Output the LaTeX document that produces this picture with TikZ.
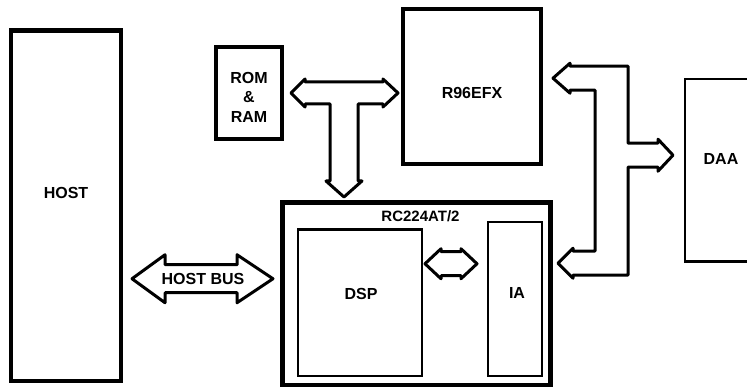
\documentclass[tikz,border=0pt]{standalone}
\usepackage{fontspec}
\setmainfont{Liberation Sans}
\usepackage{tikz}
\usetikzlibrary{calc, positioning}

\begin{document}
\begin{tikzpicture}[x=1pt, y=-1pt,
    box/.style={draw, line width=3pt, inner sep=0pt, outer sep=0pt},
    thinbox/.style={box, line width=2.4pt},
    bus/.style={draw, line width=3pt, line join=round},
    lbl/.style={font=\fontsize{16}{19.5}\selectfont\bfseries, inner sep=0pt, align=center},
  ]
    \useasboundingbox (0,0) rectangle (747,387);

    % blocks
    \node[box, line width=4.5pt, minimum width=110pt, minimum height=350.5pt] (host) at (66,205.75) {};
    \node[box, line width=4pt, minimum width=66pt, minimum height=92pt] (mem) at (249,93) {};
    \node[box, line width=4pt, minimum width=138pt, minimum height=155pt] (modem) at (472,86.2) {};
    \node[thinbox, minimum width=72pt, minimum height=182.5pt] (daa) at (721,170.25) {};
    \node[box, line width=4.5pt, minimum width=268pt, minimum height=182.5pt] (rc) at (416.5,293.75) {};
    \node[thinbox, minimum width=124pt, minimum height=146.5pt] (dsp) at (360,302.75) {};
    \node[thinbox, minimum width=54pt, minimum height=154pt] (ia) at (515,299) {};

    % labels
    \node[lbl] (hostlbl) at ($(host.center)+(0,-13)$) {HOST};
    \node[lbl] (memlbl) at ($(mem.center)+(0,4)$) {ROM\\\&\\RAM};
    \node[lbl] (modemlbl) at ($(modem.center)+(0,7)$) {R96EFX};
    \node[lbl] (daalbl) at ($(daa.center)+(0,-11)$) {DAA};
    \node[lbl, font=\fontsize{15}{18}\selectfont\bfseries] (rclbl) at ($(rc.north)+(4,14)$) {RC224AT/2};
    \node[lbl] (dsplbl) at ($(dsp.center)+(1,-9)$) {DSP};
    \node[lbl] (ialbl) at ($(ia.center)+(2,-6)$) {IA};

    % T bus between ROM/RAM, R96EFX and RC224AT/2
    \coordinate (tbus) at ([xshift=9pt]mem.east);
    \draw[bus] (tbus) -- ++(14,-14) -- ++(0,3) -- ++(78,0) -- ++(0,-3)
      -- ++(15,14) -- ++(-15,14) -- ++(0,-3) -- ++(-25,0) -- ++(0,77)
      -- ++(4,0) -- ++(-18,16) -- ++(-18,-16) -- ++(4,0) -- ++(0,-77)
      -- ++(-25,0) -- ++(0,3) -- cycle;

    % line bus to DAA
    \coordinate (lbus) at ([xshift=12pt,yshift=8pt]modem.east);
    \draw[bus] (lbus) -- ++(17,-15) -- ++(0,3) -- ++(58,0) -- ++(0,77)
      -- ++(30,0) -- ++(0,-4) -- ++(15,16) -- ++(-15,16) -- ++(0,-4)
      -- ++(-30,0) -- ++(0,108) -- ++(-55,0) -- ++(0,3) -- ++(-15,-15)
      -- ++(15,-15) -- ++(0,3) -- ++(22,0) -- ++(0,-161) -- ++(-25,0)
      -- ++(0,3) -- cycle;

    % host bus
    \coordinate (hbus) at ($(host.east)+(11,73)$);
    \draw[bus] (hbus) -- ++(33,-24) -- ++(0,10) -- ++(72,0) -- ++(0,-10)
      -- ++(36,24) -- ++(-36,24) -- ++(0,-10) -- ++(-72,0) -- ++(0,10)
      -- cycle;
    \node[lbl] (hbuslbl) at ($(hbus)+(71,0)$) {HOST BUS};

    % DSP <-> IA
    \coordinate (ibus) at ($(dsp.east)+(3,-39)$);
    \draw[bus] (ibus) -- ++(16,-15) -- ++(0,3) -- ++(20,0) -- ++(0,-3)
      -- ++(16,15) -- ++(-16,15) -- ++(0,-3) -- ++(-20,0) -- ++(0,3)
      -- cycle;
\end{tikzpicture}
\end{document}
